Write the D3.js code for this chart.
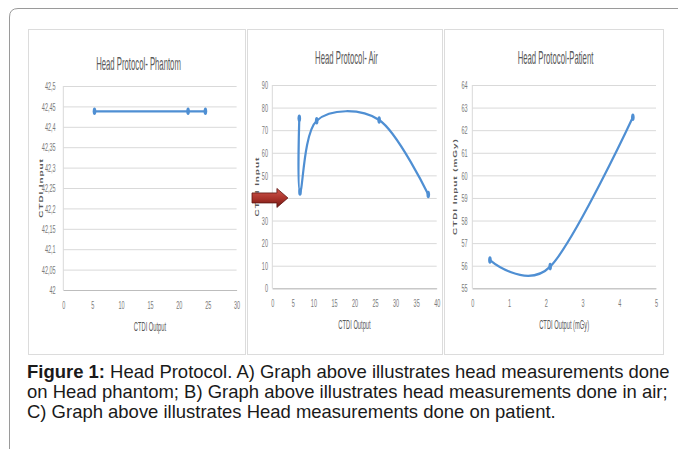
<!DOCTYPE html>
<html>
<head>
<meta charset="utf-8">
<script src="https://cdn.jsdelivr.net/npm/d3@7"></script>
<style>
  html, body { margin: 0; padding: 0; background: #ffffff; }
  svg { display: block; }
</style>
</head>
<body>
<svg id="fig" width="678" height="449"></svg>
<script>
// ---- data ----
const phantomX = [5.4, 21.6, 24.6];
const phantomY = [42.438, 42.438, 42.438];

const airX = [6.57, 6.74, 10.8, 26.0, 37.95];
const airY = [75.3, 42.6, 74.2, 74.5, 41.5];

const patientX = [0.48, 2.12, 4.37];
const patientY = [56.25, 55.96, 62.57];

const phantomYTicks = [42, 42.05, 42.1, 42.15, 42.2, 42.25, 42.3, 42.35, 42.4, 42.45, 42.5];
const phantomXTicks = [0, 5, 10, 15, 20, 25, 30];
const airYTicks = [0, 10, 20, 30, 40, 50, 60, 70, 80, 90];
const airXTicks = [0, 5, 10, 15, 20, 25, 30, 35, 40];
const patientYTicks = [55, 56, 57, 58, 59, 60, 61, 62, 63, 64];
const patientXTicks = [0, 1, 2, 3, 4, 5];

const titles = ["Head Protocol- Phantom", "Head Protocol- Air", "Head Protocol-Patient"];
const yTitles = ["CTDI Input", "CTDI Input", "CTDI Input (mGy)"];
const xTitles = ["CTDI Output", "CTDI Output", "CTDI Output (mGy)"];

const captionBold = "Figure 1:";
const captionLines = [
  " Head Protocol. A) Graph above illustrates head measurements done",
  "on Head phantom; B) Graph above illustrates head measurements done in air;",
  "C) Graph above illustrates Head measurements done on patient."
];

// ---- layout ----
const TICK_SX = 0.48;          // narrow chart lettering
const TITLE_SX = 0.43;
const LINE = "#4f8fd3";
const GRID = "#d9d9d9";
const TXT = "#7a7a7a";
const FONT = "Liberation Sans, Arial, sans-serif";

const panels = [
  { box: [28, 29, 245, 354], plot: [63.3, 86, 236.6, 290], titleY: 63, yTitleX: 41,
    xs: phantomX, ys: phantomY, xd: [0, 30], yd: [42, 42.5], xt: phantomXTicks, yt: phantomYTicks,
    yfmt: v => String(+v.toFixed(2)).replace(".", ","), smooth: false, ypad: 16 },
  { box: [247, 29, 442, 354], plot: [272.3, 85, 436.7, 288.3], titleY: 57, yTitleX: 257,
    xs: airX, ys: airY, xd: [0, 40], yd: [0, 90], xt: airXTicks, yt: airYTicks,
    yfmt: v => String(v), smooth: true, ypad: 9 },
  { box: [444, 29, 663, 354], plot: [472.3, 85, 656, 288.3], titleY: 57, yTitleX: 455,
    xs: patientX, ys: patientY, xd: [0, 5], yd: [55, 64], xt: patientXTicks, yt: patientYTicks,
    yfmt: v => String(v), smooth: true, ypad: 10 }
];

const svg = d3.select("#fig");
svg.append("rect").attr("width", 678).attr("height", 449).attr("fill", "#fff");

// outer figure frame (rounded top-left corner)
svg.append("path")
  .attr("d", "M9.5,449 L9.5,17 Q9.5,8.5 18,8.5 L678,8.5")
  .attr("fill", "none").attr("stroke", "#9a9a9a").attr("stroke-width", 1);

const defs = svg.append("defs");
const grad = defs.append("linearGradient").attr("id", "arrowFill")
  .attr("x1", 0).attr("y1", 0).attr("x2", 0).attr("y2", 1);
grad.append("stop").attr("offset", "0%").attr("stop-color", "#d0584f");
grad.append("stop").attr("offset", "55%").attr("stop-color", "#a8322a");
grad.append("stop").attr("offset", "100%").attr("stop-color", "#6e1813");

panels.forEach((p, i) => {
  const [bx0, by0, bx1, by1] = p.box;
  const [px0, py0, px1, py1] = p.plot;
  const g = svg.append("g");

  g.append("rect")
    .attr("x", bx0 + 0.5).attr("y", by0 + 0.5)
    .attr("width", bx1 - bx0).attr("height", by1 - by0)
    .attr("fill", "#fff").attr("stroke", "#dcdcdc");

  const x = d3.scaleLinear().domain(p.xd).range([px0, px1]);
  const y = d3.scaleLinear().domain(p.yd).range([py1, py0]);

  // horizontal gridlines + y tick labels
  const ya = d3.axisLeft(y).tickValues(p.yt).tickFormat(p.yfmt)
    .tickSizeInner(-(px1 - px0)).tickSizeOuter(0).tickPadding(p.ypad);
  const yg = g.append("g").attr("transform", `translate(${px0},0)`).call(ya);
  yg.select(".domain").remove();
  yg.selectAll(".tick line").attr("stroke", GRID).attr("stroke-width", 1);
  yg.selectAll(".tick text")
    .attr("transform", `scale(${TICK_SX},1)`)
    .attr("fill", TXT).attr("font-family", FONT).attr("font-size", 11.5);

  // left axis and bottom axis lines
  g.append("line").attr("x1", px0).attr("x2", px0).attr("y1", py0).attr("y2", py1)
    .attr("stroke", GRID);
  const xa = d3.axisBottom(x).tickValues(p.xt).tickFormat(d3.format("d"))
    .tickSize(0).tickPadding(11);
  const xg = g.append("g").attr("transform", `translate(0,${py1})`).call(xa);
  xg.select(".domain").attr("stroke", "#bdbdbd");
  xg.selectAll(".tick text")
    .attr("transform", `scale(${TICK_SX},1)`)
    .attr("fill", TXT).attr("font-family", FONT).attr("font-size", 11.5);

  // chart title
  g.append("text")
    .attr("transform", `translate(${(bx0 + bx1) / 2 + 2},${p.titleY + 6.5}) scale(${TITLE_SX},1)`)
    .attr("text-anchor", "middle")
    .attr("font-family", FONT).attr("font-size", 18)
    .attr("fill", "#595959").text(titles[i]);

  // x axis title
  g.append("text")
    .attr("transform", `translate(${(px0 + px1) / 2},${py1 + 41}) scale(${TICK_SX},1)`)
    .attr("text-anchor", "middle")
    .attr("font-family", FONT).attr("font-size", 12)
    .attr("fill", "#595959").text(xTitles[i]);

  // y axis title (rotated, bold)
  g.append("text")
    .attr("transform", `translate(${p.yTitleX},${(py0 + py1) / 2}) scale(0.55,1) rotate(-90)`)
    .attr("text-anchor", "middle").attr("dy", "0.35em")
    .attr("font-family", FONT).attr("font-size", 10)
    .attr("font-weight", "bold").attr("letter-spacing", 0.9)
    .attr("fill", "#595959").text(yTitles[i]);

  // series line
  const pts = p.xs.map((v, k) => [v, p.ys[k]]);
  const line = d3.line().x(d => x(d[0])).y(d => y(d[1]))
    .curve(p.smooth ? d3.curveCardinal.tension(0) : d3.curveLinear);
  g.append("path").datum(pts).attr("d", line)
    .attr("fill", "none").attr("stroke", LINE).attr("stroke-width", 2.2)
    .attr("stroke-linejoin", "round").attr("stroke-linecap", "round");

  // point markers
  g.selectAll("ellipse.pt").data(pts).join("ellipse")
    .attr("cx", d => x(d[0])).attr("cy", d => y(d[1]))
    .attr("rx", 1.8).attr("ry", 3.8).attr("fill", LINE);

  // callout arrow on the air chart, pointing at the ~40 level
  if (i === 1) {
    const ay = y(40);
    const tipX = x(3.8);
    const startX = 252;
    const bodyEnd = tipX - 11;
    g.append("path")
      .attr("d", `M${startX},${ay - 5} L${bodyEnd},${ay - 5} L${bodyEnd},${ay - 9.5} L${tipX},${ay}
                  L${bodyEnd},${ay + 9.5} L${bodyEnd},${ay + 5} L${startX},${ay + 5} Z`)
      .attr("fill", "url(#arrowFill)").attr("stroke", "#5e1410").attr("stroke-width", 0.8);
  }
});

// caption
const cap = svg.append("g")
  .attr("transform", "translate(27,0) scale(1.056,1)")
  .attr("font-family", FONT)
  .attr("font-size", 17.5).attr("fill", "#1a1a1a");
const t1 = cap.append("text").attr("x", 0).attr("y", 378);
t1.append("tspan").attr("font-weight", "bold").text(captionBold);
t1.append("tspan").text(captionLines[0]);
cap.append("text").attr("x", 0).attr("y", 398).text(captionLines[1]);
cap.append("text").attr("x", 0).attr("y", 418).text(captionLines[2]);
</script>
</body>
</html>
